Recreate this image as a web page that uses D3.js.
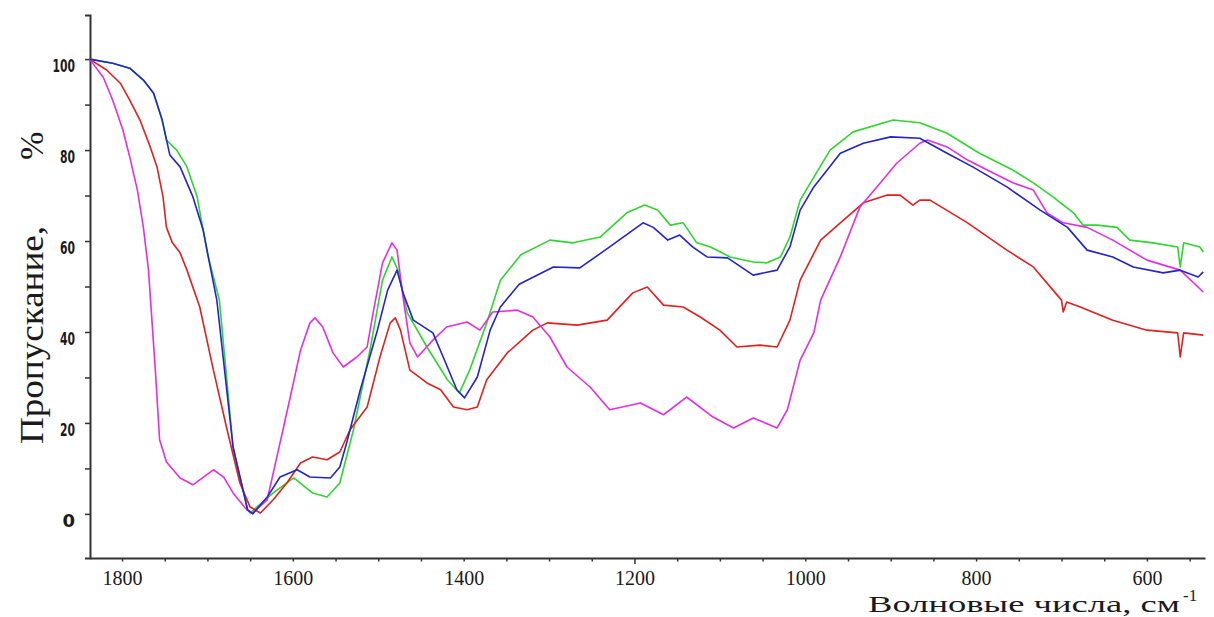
<!DOCTYPE html>
<html>
<head>
<meta charset="utf-8">
<script src="https://cdn.jsdelivr.net/npm/d3@7"></script>
<style>
  body { margin: 0; background: #fff; }
  svg { display: block; }
</style>
</head>
<body>
<svg width="1214" height="617"></svg>
<script>
// IR spectra, transmittance (%) vs wavenumber (cm-1)
var green = [[1838,100],[1811,99.1],[1791,98],[1775,95.4],[1763,92.5],[1753,86.6],[1748,82.2],[1736,80],[1724,76.3],[1712,69.7],[1705,62.4],[1699,56.5],[1686,47],[1670,14.7],[1653,0.9],[1650,0.2],[1623,4.6],[1599,7.9],[1577,4.6],[1560,3.7],[1545,6.8],[1529,18.5],[1509,36.7],[1495,51.4],[1484,56.5],[1477,53.6],[1466,44.2],[1443,36.7],[1419,29.5],[1405,26.6],[1393,31.6],[1373,42],[1357,51.4],[1333,57],[1299,60.2],[1272,59.6],[1240,60.9],[1209,66.2],[1188,67.9],[1173,66.8],[1158,63.5],[1143,64],[1127,59.6],[1111,58.7],[1088,56.5],[1061,55.4],[1045,55.2],[1029,56.5],[1018,60.9],[1006,69],[994,72.8],[971,80],[944,84],[897,86.6],[866,86],[834,83.7],[796,79.3],[757,75.6],[733,72.8],[710,69.7],[686,66.2],[675,63.5],[658,63.5],[635,63],[620,60.2],[593,59.6],[564,58.7],[561,54.3],[557,59.6],[538,58.7],[534,57.6]];

var blue = [[1838,100],[1811,99.1],[1791,98],[1775,95.4],[1763,92.5],[1753,86.6],[1744,78.9],[1732,76.3],[1717,69.7],[1705,62.4],[1699,56.5],[1689,47],[1670,14.7],[1653,0.9],[1647,0],[1630,3.7],[1615,8.1],[1595,9.7],[1580,8.1],[1556,7.9],[1545,10.3],[1537,15.6],[1521,27.3],[1501,40.4],[1489,49.2],[1478,53.6],[1471,48.6],[1459,42.6],[1436,39.8],[1424,34.5],[1408,27.3],[1399,25.5],[1384,30.1],[1369,40.4],[1357,45.5],[1335,50.5],[1295,54.3],[1264,54.1],[1229,58.7],[1190,64],[1178,63],[1161,60.2],[1147,61.3],[1132,58.7],[1115,56.5],[1091,56.3],[1061,52.5],[1033,53.6],[1018,58.7],[1006,66.8],[990,71.9],[959,79.3],[932,81.5],[900,82.9],[866,82.6],[834,79.3],[804,76.3],[764,71.9],[725,66.8],[693,63],[670,58],[640,56.5],[616,54.3],[581,53],[561,53.6],[540,52.1],[534,53.2]];

var red = [[1838,100],[1818,97.6],[1802,94.7],[1791,91],[1779,86.6],[1767,80.7],[1759,76.3],[1752,69.7],[1748,63],[1741,59.6],[1732,57.4],[1724,53.6],[1709,45.5],[1693,31.6],[1677,18.5],[1662,6.8],[1650,1.5],[1638,0.2],[1623,3.1],[1607,6.8],[1591,11.2],[1577,12.5],[1560,11.9],[1545,13.6],[1533,18.5],[1513,23.5],[1498,34.5],[1486,42],[1480,43.1],[1474,40.4],[1463,31.6],[1443,28.8],[1427,27.3],[1412,23.5],[1396,22.9],[1384,23.5],[1373,29.5],[1349,35.4],[1319,40.4],[1302,42],[1267,41.5],[1232,42.6],[1202,48.6],[1185,49.9],[1166,45.9],[1143,45.5],[1123,43.3],[1100,40.4],[1080,36.7],[1053,37.1],[1033,36.7],[1018,42.6],[1006,51.4],[982,60.2],[959,64],[932,68.4],[904,70.1],[889,70.1],[874,67.9],[866,69],[854,69],[810,64],[764,58],[733,54.3],[710,49.2],[700,47],[698,44.4],[694,46.6],[678,45.5],[640,42.6],[600,40.4],[564,39.8],[561,34.5],[557,39.8],[534,39.3]];

var magenta = [[1838,100],[1822,96],[1811,91],[1799,84.4],[1791,78.5],[1782,71.2],[1775,63],[1769,53.6],[1761,31.6],[1756,16.3],[1748,11.4],[1732,7.9],[1717,6.4],[1709,7.5],[1693,9.7],[1681,8.1],[1670,4.6],[1654,0.9],[1647,0.2],[1630,3.1],[1615,15.6],[1603,25.7],[1591,36],[1580,42],[1574,43.1],[1565,41.1],[1553,35.4],[1541,32.3],[1525,34.5],[1513,36.7],[1506,44.2],[1495,55.2],[1484,59.6],[1478,58],[1471,47.7],[1463,37.6],[1454,34.5],[1436,38.2],[1420,41.1],[1396,42.2],[1381,40.4],[1366,44.4],[1337,44.8],[1319,43.3],[1299,38.9],[1279,32.3],[1252,27.9],[1229,22.9],[1193,24.4],[1166,21.8],[1139,25.7],[1108,21.3],[1084,18.9],[1061,21.1],[1033,18.9],[1021,22.9],[1006,33.8],[990,39.8],[982,47],[959,56.5],[936,67.5],[912,72.8],[893,77.1],[866,81.5],[857,82.2],[834,80.7],[810,77.8],[787,75.6],[757,72.8],[733,71.2],[717,66.2],[698,64],[670,63],[640,60.2],[600,55.8],[561,53.6],[534,48.8]];

var series = [
  { name: "green", color: "#2ed62e", values: green },
  { name: "red", color: "#e61e1e", values: red },
  { name: "magenta", color: "#e42ee4", values: magenta },
  { name: "blue", color: "#2323cf", values: blue }
];

var xTicks = d3.range(550, 1801, 50);
var xLabels = [1800, 1600, 1400, 1200, 1000, 800, 600];
var yTicks = d3.range(0, 101, 10);
var yLabels = [0, 20, 40, 60, 80, 100];

var svg = d3.select("svg");

var x = d3.scaleLinear().domain([1837.5, 532]).range([90, 1205]);
var y = d3.scaleLinear().domain([-9.7, 109.7]).range([558, 15]);

// axes
var xAxis = d3.axisBottom(x)
  .tickValues(xTicks)
  .tickSizeOuter(0)
  .tickFormat(function(d) { return xLabels.indexOf(d) >= 0 ? d : ""; });

var gx = svg.append("g")
  .attr("transform", "translate(0,558)")
  .call(xAxis);
gx.select(".domain").attr("stroke", "#333").attr("stroke-width", 2);
gx.selectAll(".tick line")
  .attr("stroke", "#333")
  .attr("stroke-width", 1.5)
  .attr("y2", function(d) { return d === 1200 ? 6 : 3.5; });
gx.selectAll(".tick text")
  .attr("y", 27).attr("dy", null)
  .attr("fill", "#1a1a1a")
  .style("font-family", "'Liberation Serif', serif")
  .style("font-size", "20px");

var yAxis = d3.axisLeft(y)
  .tickValues(yTicks)
  .tickSizeOuter(0)
  .tickSize(5)
  .tickFormat(function(d) { return yLabels.indexOf(d) >= 0 ? d : ""; });

var gy = svg.append("g")
  .attr("transform", "translate(90,0)")
  .call(yAxis);
gy.select(".domain").attr("stroke", "#333").attr("stroke-width", 2);
gy.selectAll(".tick line").attr("stroke", "#333").attr("stroke-width", 1.5);
gy.selectAll(".tick text")
  .attr("x", -15)
  .attr("dy", "0.7em")
  .attr("fill", "#1a1a1a")
  .style("font-family", "'DejaVu Sans', sans-serif")
  .style("font-weight", "bold")
  .style("font-size", "18px")
  .each(function(d) {
    var s = String(d);
    if (s.length > 1) d3.select(this).attr("textLength", 7.5 * s.length).attr("lengthAdjust", "spacingAndGlyphs");
  });

// spectra
var line = d3.line()
  .x(function(d) { return x(d[0]); })
  .y(function(d) { return y(d[1]); });

svg.append("g").selectAll("path")
  .data(series)
  .join("path")
  .attr("d", function(d) { return line(d.values); })
  .attr("fill", "none")
  .attr("stroke", function(d) { return d.color; })
  .attr("stroke-width", 1.6)
  .attr("stroke-linejoin", "round");

// titles
var serif = "'Liberation Serif', serif";
svg.append("text")
  .attr("transform", "translate(43,444) rotate(-90)")
  .attr("textLength", 218)
  .attr("lengthAdjust", "spacingAndGlyphs")
  .style("font-family", serif)
  .style("font-size", "34px")
  .attr("fill", "#1a1a1a")
  .text("Пропускание,");
svg.append("text")
  .attr("transform", "translate(43,160) rotate(-90)")
  .style("font-family", serif)
  .style("font-size", "34px")
  .attr("fill", "#1a1a1a")
  .text("%");

svg.append("text")
  .attr("x", 868).attr("y", 612)
  .attr("textLength", 312)
  .attr("lengthAdjust", "spacingAndGlyphs")
  .style("font-family", serif)
  .style("font-size", "24px")
  .attr("fill", "#1a1a1a")
  .text("Волновые числа, см");
svg.append("text")
  .attr("x", 1183).attr("y", 601)
  .style("font-family", serif)
  .style("font-size", "17px")
  .attr("fill", "#1a1a1a")
  .text("-1");
</script>
</body>
</html>
